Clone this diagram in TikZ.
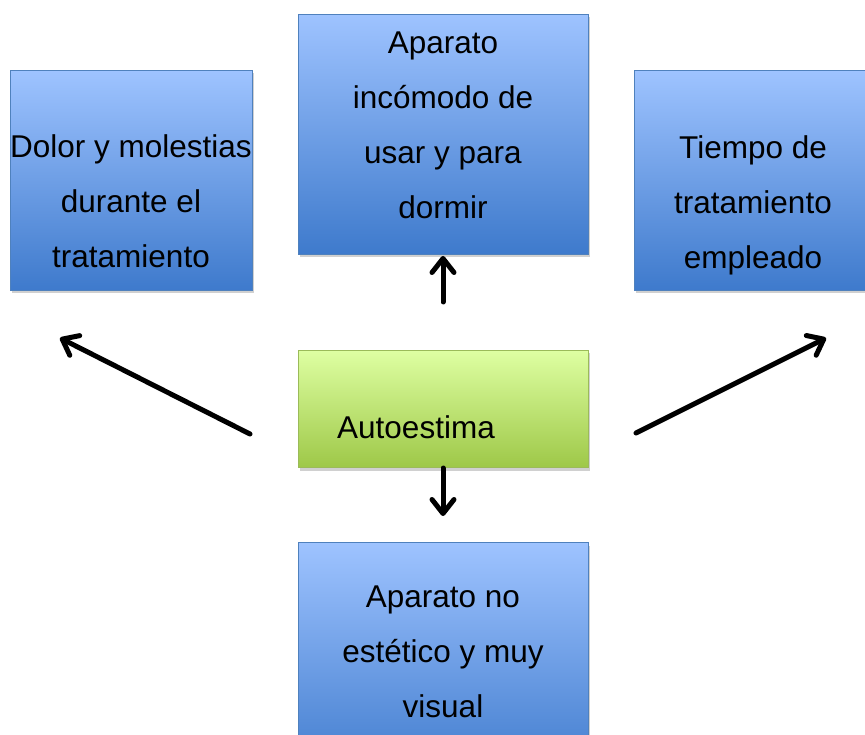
\documentclass[tikz,border=0pt]{standalone}
\usepackage{fontspec}
\setmainfont{Liberation Sans}
\usetikzlibrary{arrows.meta,shadows}
\definecolor{bluetop}{RGB}{158,195,255}
\definecolor{bluebot}{RGB}{62,122,204}
\definecolor{blueline}{RGB}{79,129,189}
\definecolor{greentop}{RGB}{222,255,162}
\definecolor{greenbot}{RGB}{158,200,72}
\definecolor{greenline}{RGB}{155,187,89}
\tikzset{
  bluebox/.style={draw=blueline, line width=1pt, top color=bluetop, bottom color=bluebot,
    anchor=north west, inner sep=0pt,
    drop shadow={shadow xshift=1pt, shadow yshift=-3pt, opacity=0.3, fill=black!60}},
  greenbox/.style={draw=greenline, line width=1pt, top color=greentop, bottom color=greenbot,
    anchor=north west, inner sep=0pt,
    drop shadow={shadow xshift=1pt, shadow yshift=-3pt, opacity=0.3, fill=black!60}},
  boxtext/.style={align=center, inner sep=0pt, anchor=north,
    font={\fontsize{31.5}{55}\selectfont}},
  linktext/.style={inner sep=0pt, anchor=base west, font={\fontsize{31.5}{55}\selectfont}},
  link/.style={line width=5pt, line cap=round, line join=round,
    -{Straight Barb[length=14pt,width=22pt,round]}}
}
\newcommand{\fl}{\rule{0pt}{24pt}}
\begin{document}
\begin{tikzpicture}[x=1pt,y=-1pt]
\clip (0,0) rectangle (865,735);
\fill[white] (0,0) rectangle (865,735);
% boxes
\node[bluebox, minimum width=290pt, minimum height=240pt] (b1) at (298,14) {};
\node[bluebox, minimum width=242pt, minimum height=220pt] (b2) at (10,70) {};
\node[bluebox, minimum width=260pt, minimum height=220pt] (b3) at (634,70) {};
\node[greenbox, minimum width=290pt, minimum height=117pt] (b5) at (298,350) {};
\node[bluebox, minimum width=290pt, minimum height=240pt] (b4) at (298,542) {};
% texts
\node[boxtext] (t1) at (443,29) {\fl Aparato\\ incómodo de\\ usar y para\\ dormir};
\node[boxtext] (t2) at (131,133) {\fl Dolor y molestias\\ durante el\\ tratamiento};
\node[boxtext] (t3) at (753,134) {\fl Tiempo de\\ tratamiento\\ empleado};
\node[boxtext] (t4) at (443,583) {\fl Aparato no\\ estético y muy\\ visual};
\node[linktext] (t5) at (337,438) {Autoestima};
% arrow ends
\coordinate (aLs) at (250,434);
\coordinate (aLe) at (60,338);
\coordinate (aRs) at (636,433);
\coordinate (aRe) at (826,338);
\coordinate (aUs) at (443,302);
\coordinate (aUe) at (443,256);
\coordinate (aDs) at (443,468);
\coordinate (aDe) at (443,516);
\draw[link] (aLs) -- (aLe);
\draw[link] (aRs) -- (aRe);
\draw[link] (aUs) -- (aUe);
\draw[link] (aDs) -- (aDe);
\end{tikzpicture}
\end{document}
